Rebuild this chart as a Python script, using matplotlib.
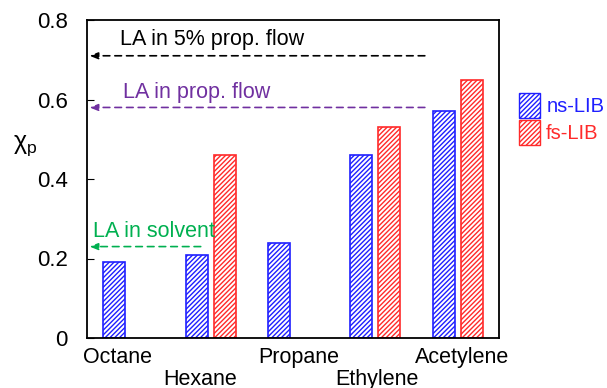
import numpy as np
import matplotlib
matplotlib.use('Agg')
from matplotlib import pyplot as plt
from matplotlib.patches import Patch

plt.rcParams['font.family'] = ['Liberation Sans', 'DejaVu Sans']
plt.rcParams['hatch.linewidth'] = 1.0

# data
fuels = ['Octane', 'Hexane', 'Propane', 'Ethylene', 'Acetylene']
ns_lib = [0.19, 0.21, 0.24, 0.46, 0.57]
fs_lib = [0.0, 0.46, 0.0, 0.53, 0.65]
la_5pct = 0.71   # LA in 5% prop. flow
la_prop = 0.58   # LA in prop. flow
la_solv = 0.23   # LA in solvent

blue = '#1f1fff'
red = '#ff2a2a'
purple = '#7030a0'
green = '#00b050'
fs = 15.5

fig = plt.figure(figsize=(6.07, 3.88), dpi=100)
ax = fig.add_axes([87/607, 50/388, 412/607, 318/388])

x = np.arange(len(fuels))
w = 0.265
off = 0.17
for i in range(len(fuels)):
    if ns_lib[i] > 0:
        ax.bar(x[i]-off, ns_lib[i], w, color='white', edgecolor=blue,
               hatch='///////', linewidth=1.2)
    if fs_lib[i] > 0:
        ax.bar(x[i]+off, fs_lib[i], w, color='white', edgecolor=red,
               hatch='///////', linewidth=1.2)

ax.set_xlim(-0.5, 4.5)
ax.set_ylim(0, 0.8)
ax.set_yticks([0, 0.2, 0.4, 0.6, 0.8])
ax.set_yticklabels(['0', '0.2', '0.4', '0.6', '0.8'], fontsize=16)
ax.tick_params(axis='y', direction='in', length=5, pad=14)
ax.set_xticks([])
for s in ax.spines.values():
    s.set_linewidth(1.3)

# staggered category labels
lab_x = [-0.13, 0.87, 2.07, 3.02, 4.05]
for i, name in enumerate(fuels):
    yy = -0.063 if i % 2 == 0 else -0.117
    ax.text(lab_x[i], yy, name, ha='center', va='baseline', fontsize=fs,
            clip_on=False)

ax.text(-1.25, 0.485, r'$\mathregular{\chi_p}$', fontsize=18, ha='center',
        va='center', clip_on=False)

# reference lines with arrows
arr = dict(arrowstyle='-|>,head_length=0.5,head_width=0.2', linestyle=(0, (4, 3)),
           lw=1.2, shrinkA=0, shrinkB=0)
ax.annotate('', xy=(-0.47, la_5pct), xytext=(3.6, la_5pct),
            arrowprops=dict(arr, color='black'))
ax.text(-0.1, 0.752, 'LA in 5% prop. flow', fontsize=fs, color='black', va='center')
ax.annotate('', xy=(-0.47, la_prop), xytext=(3.6, la_prop),
            arrowprops=dict(arr, color=purple))
ax.text(-0.06, 0.618, 'LA in prop. flow', fontsize=fs, color=purple, va='center')
ax.annotate('', xy=(-0.47, la_solv), xytext=(0.88, la_solv),
            arrowprops=dict(arr, color=green))
ax.text(-0.43, 0.268, 'LA in solvent', fontsize=fs, color=green, va='center')

handles = [Patch(facecolor='white', edgecolor=blue, hatch='///////', label='ns-LIB'),
           Patch(facecolor='white', edgecolor=red, hatch='///////', label='fs-LIB')]
fig.legend(handles=handles, loc='center left', bbox_to_anchor=(519/607, 1-119/388),
           frameon=False, fontsize=14.5, handlelength=1.05, handleheight=1.5,
           handletextpad=0.3, labelspacing=0.1, borderpad=0, borderaxespad=0,
           labelcolor=[blue, red])

fig.savefig('out.png', dpi=100)
